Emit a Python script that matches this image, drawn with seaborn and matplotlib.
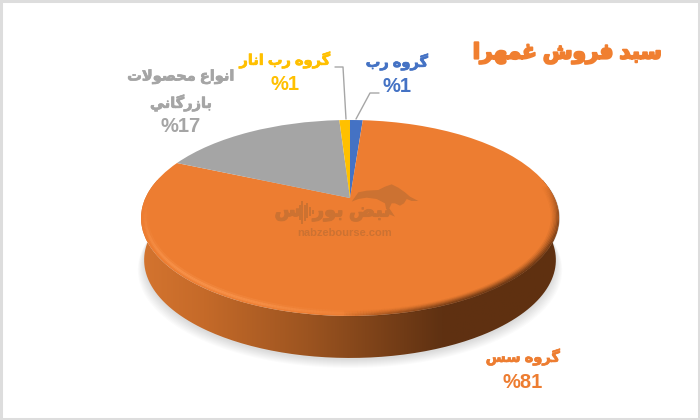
import numpy as np
import matplotlib
matplotlib.use('Agg')
import matplotlib.pyplot as plt
import matplotlib.patheffects as pe
import seaborn as sns
from matplotlib.collections import LineCollection
from matplotlib.colors import LinearSegmentedColormap
from matplotlib.patches import PathPatch, Polygon, Rectangle
from matplotlib.path import Path
from matplotlib.transforms import Transform

# Data
title = 'سبد فروش غمهرا'
names = [['گروه رب'], ['گروه سس'], ['انواع محصولات', 'بازرگاني'], ['گروه رب انار']]
shares = [1.2, 80.4, 17.4, 1.0]
shown_percent = [1, 81, 17, 1]
colors = sns.color_palette(['#4472C4', '#ED7D31', '#A5A5A5', '#FFC000'])
text_colors = ['#4472C4', '#ED7D31', '#A5A5A5', '#FFC000']

# isolated, final, initial, medial
FORMS = {
    'ا': (0xFE8D, 0xFE8E), 'د': (0xFEA9, 0xFEAA), 'ر': (0xFEAD, 0xFEAE),
    'ز': (0xFEAF, 0xFEB0), 'و': (0xFEED, 0xFEEE),
    'ب': (0xFE8F, 0xFE90, 0xFE91, 0xFE92), 'ت': (0xFE95, 0xFE96, 0xFE97, 0xFE98),
    'ح': (0xFEA1, 0xFEA2, 0xFEA3, 0xFEA4), 'س': (0xFEB1, 0xFEB2, 0xFEB3, 0xFEB4),
    'ش': (0xFEB5, 0xFEB6, 0xFEB7, 0xFEB8), 'ص': (0xFEB9, 0xFEBA, 0xFEBB, 0xFEBC),
    'ض': (0xFEBD, 0xFEBE, 0xFEBF, 0xFEC0), 'ع': (0xFEC9, 0xFECA, 0xFECB, 0xFECC),
    'غ': (0xFECD, 0xFECE, 0xFECF, 0xFED0), 'ف': (0xFED1, 0xFED2, 0xFED3, 0xFED4),
    'ل': (0xFEDD, 0xFEDE, 0xFEDF, 0xFEE0), 'م': (0xFEE1, 0xFEE2, 0xFEE3, 0xFEE4),
    'ن': (0xFEE5, 0xFEE6, 0xFEE7, 0xFEE8), 'ه': (0xFEE9, 0xFEEA, 0xFEEB, 0xFEEC),
    'ي': (0xFEF1, 0xFEF2, 0xFEF3, 0xFEF4), 'گ': (0xFB92, 0xFB93, 0xFB94, 0xFB95),
}


def shape(text):
    # matplotlib does no Arabic shaping, so pick the joined forms and reverse
    text = text.replace('لا', '\uFEFB')
    out = []
    for i, ch in enumerate(text):
        if ch not in FORMS:
            out.append(ch)
            continue
        prev = text[i - 1] if i > 0 else ' '
        nxt = text[i + 1] if i + 1 < len(text) else ' '
        joins_prev = prev in FORMS and len(FORMS[prev]) == 4
        joins_next = len(FORMS[ch]) == 4 and (nxt in FORMS or nxt == '\uFEFB')
        idx = (3 if joins_next else 1) if joins_prev else (2 if joins_next else 0)
        out.append(chr(FORMS[ch][idx]))
    # lam-alef joined to a previous letter
    for i, ch in enumerate(text):
        if ch == '\uFEFB' and i > 0 and text[i - 1] in FORMS and len(FORMS[text[i - 1]]) == 4:
            out[i] = '\uFEFC'
    return ''.join(reversed(out))


# Perspective of the pie disc, fitted to the picture
CX, APEX_Y, A, H, K = 350, 198, 204.6, 93.9, 0.204


def project(u, v):
    w = 1 + K * v
    return CX + A * u / w, APEX_Y - H * v / w


class Disc(Transform):
    input_dims = output_dims = 2

    def transform_non_affine(self, values):
        values = np.asarray(values, dtype=float)
        x, y = project(values[:, 0], values[:, 1])
        return np.column_stack([x, y])


def rim(t, r=1.0):
    return project(r * np.cos(t), r * np.sin(t))


def heavy(width, color):
    # thickens the thin Arabic glyphs of the fallback font
    return [pe.withStroke(linewidth=width, foreground=color)]


sns.set_theme(style='white')
plt.rcParams['font.family'] = ['Liberation Sans', 'DejaVu Sans']

fig = plt.figure(figsize=(7, 4.2), dpi=100)
ax = fig.add_axes([0, 0, 1, 1])

wedges, _ = ax.pie(shares, colors=colors, startangle=90, counterclock=False, radius=1)
disc = Disc() + ax.transData
for wedge in wedges:
    wedge.set_transform(disc)
    wedge.set_zorder(4)
    wedge.set_clip_on(False)
    wedge.set_linewidth(0)

ax.set_aspect('auto')
ax.set_xlim(0, 700)
ax.set_ylim(420, 0)
ax.axis('off')

# frame of the picture
ax.add_patch(Rectangle((1, 1), 697.5, 417.5, fill=False, ec='#DDDDDD', lw=2.2, zorder=1))

# soft shadow under the disc
t_all = np.linspace(0, 2 * np.pi, 240)
xr, yr = rim(t_all)
for grow in np.linspace(0, 8, 9):
    sx = CX + (xr - CX) * 0.985 * (1 + grow / 260)
    ax.fill(sx, yr + 44 + grow, color='#000000', alpha=0.016, lw=0, zorder=2)

# side wall with the horizontal gradient
t_low = np.linspace(np.radians(168), np.radians(372), 240)
xt, yt = rim(t_low)
xb = CX + (xt - CX) * 0.985
yb = yt + 42
wall = Path(np.column_stack([np.r_[xt, xb[::-1]], np.r_[yt, yb[::-1]]]))
cmap = LinearSegmentedColormap.from_list(
    'wall', [(0, '#D4742F'), (0.15, '#C56A29'), (0.4, '#9C5420'), (0.72, '#5F3112'), (1, '#5F3010')])
grad = ax.imshow(np.linspace(0, 1, 256)[None, :], cmap=cmap, extent=(141, 559, 400, 180),
                 aspect='auto', zorder=3)
grad.set_clip_path(PathPatch(wall, transform=ax.transData))
ax.set_xlim(0, 700)
ax.set_ylim(420, 0)


def rim_stroke(t, r, color, alpha, lw, power):
    x, y = rim(t, r)
    pts = np.column_stack([x, y])
    segs = np.stack([pts[:-1], pts[1:]], axis=1)
    rgba = np.tile(matplotlib.colors.to_rgba(color), (len(segs), 1))
    rgba[:, 3] = alpha * np.sin(np.linspace(0, np.pi, len(segs))) ** power
    ax.add_collection(LineCollection(segs, colors=rgba, linewidths=lw, capstyle='butt', zorder=5))


# bevel: light on the lower left of the rim, dark on the lower right
t = np.linspace(np.radians(176), np.radians(284), 160)
rim_stroke(t, 0.978, '#FA9750', 0.3, 4.0, 1.6)
rim_stroke(t, 0.98, '#FA9750', 0.65, 1.8, 1.6)

t = np.linspace(np.radians(268), np.radians(368), 160)
for r, a in [(0.998, 0.8), (0.992, 0.6), (0.986, 0.42), (0.98, 0.28), (0.974, 0.17), (0.967, 0.09)]:
    rim_stroke(t, r, '#5F3112', a, 1.5, 0.9)

# watermark
mark = '#CC7232'
bull = np.array([(5, 80), (25, 52), (50, 47), (85, 45), (105, 35), (125, 28), (145, 38), (165, 52),
                 (180, 65), (205, 78), (185, 78), (170, 72), (162, 85), (150, 92), (135, 85),
                 (125, 85), (118, 100), (135, 125), (118, 118), (108, 100), (105, 85), (80, 72),
                 (50, 68), (25, 72)]) / 3 + (350, 175)
ax.add_patch(Polygon(bull, closed=True, fc=mark, ec='none', zorder=6))
ax.text(352, 213, shape('نبض بور'), color=mark, fontsize=14, fontweight='bold', ha='center',
        va='center', zorder=7, path_effects=heavy(0.8, mark))
ax.text(288, 212, shape('س'), color=mark, fontsize=14, fontweight='bold', ha='center',
        va='center', zorder=7, path_effects=heavy(0.8, mark))
ax.vlines([297, 299.6, 302.2, 304.8, 307.4, 310, 312.6], [209, 205, 201, 205, 203, 207, 210],
          [215, 220, 224, 221, 218, 216, 214], color=mark, lw=1.4, zorder=7)
ax.text(345, 233, 'nabzebourse.com', color=mark, fontsize=8.0, fontweight='bold', ha='center',
        va='center', zorder=7)

# leader lines
ax.plot([356, 370, 379], [119, 93, 93], color='#A6A6A6', lw=1, zorder=3)
ax.plot([335, 343, 346], [67, 67, 119], color='#A6A6A6', lw=1, zorder=3)

# labels
label_pos = [(397, [62], 86), (523, [357], 382), (181, [77, 103], 127), (285, [60], 84)]
for (lx, name_ys, pct_y), lines, pct, c in zip(label_pos, names, shown_percent, text_colors):
    for ly, line in zip(name_ys, lines):
        ax.text(lx, ly, shape(line), color=c, fontsize=10.5, fontweight='bold', ha='center',
                va='center', path_effects=heavy(0.5, c))
    ax.text(lx, pct_y, f'%{pct}', color=c, fontsize=14.5, fontweight='bold', ha='center', va='center')

ax.text(567, 53, shape(title), color='#F07F30', fontsize=15.5, fontweight='bold', ha='center',
        va='center', path_effects=heavy(1.4, '#F07F30'))

fig.savefig('out.png', dpi=100)
